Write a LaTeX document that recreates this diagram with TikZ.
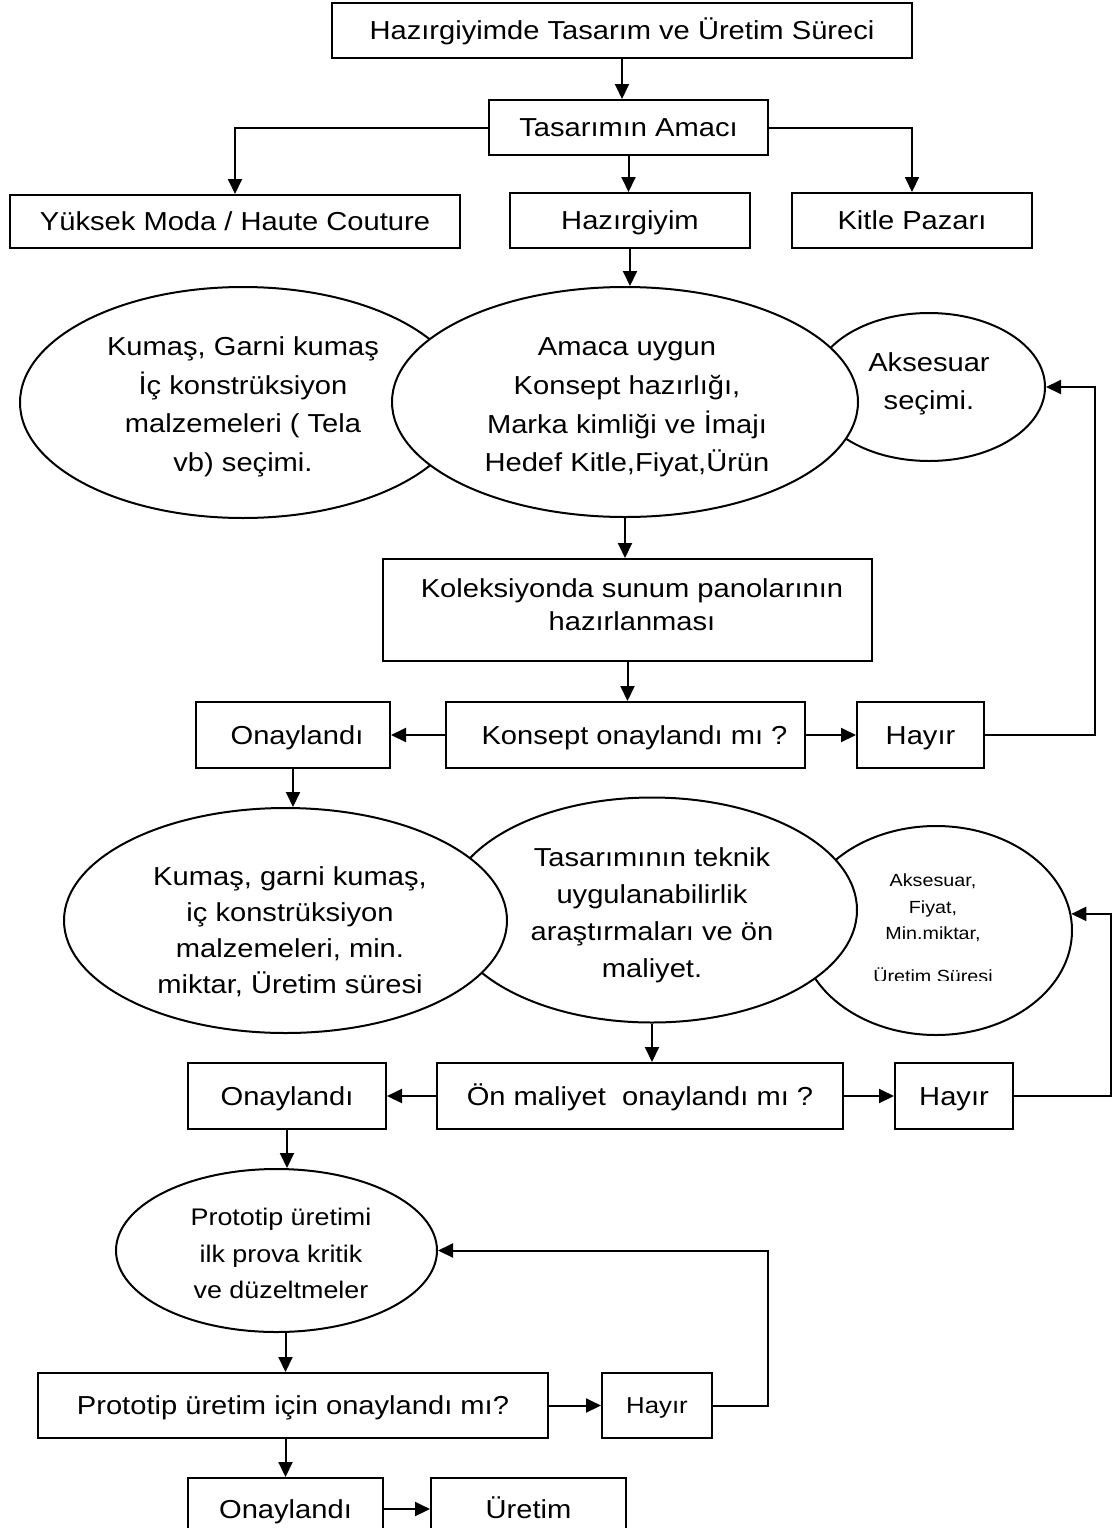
\documentclass[tikz,border=0pt]{standalone}
\usepackage{fontspec}
\setmainfont{Liberation Sans}[FakeStretch=1.12]
\usetikzlibrary{shapes.geometric,arrows.meta}
\begin{document}
\begin{tikzpicture}[x=1pt,y=-1pt,
  box/.style={draw,line width=2pt,fill=white,inner sep=0pt,align=center,text height=18.6pt,text depth=0pt,font=\fontsize{26}{33}\selectfont},
  ell/.style={draw,ellipse,line width=2pt,fill=white,inner sep=0pt},
  etxt/.style={inner sep=0pt,align=center,font=\fontsize{26}{38.6}\selectfont},
  arr/.style={line width=2pt,-{Triangle[length=15pt,width=14pt]}},
  ln/.style={line width=2pt}]
\useasboundingbox (0,0) rectangle (1117,1528);
\clip (0,0) rectangle (1117,1528);
\fill[white] (0,0) rectangle (1117,1528);

% top boxes
\node[box,minimum width=580pt,minimum height=55pt] (title) at (622,30.5) {Hazırgiyimde Tasarım ve Üretim Süreci};
\node[box,minimum width=279pt,minimum height=55pt] (amac) at (628.5,127.5) {Tasarımın Amacı};
\node[box,minimum width=450pt,minimum height=53pt] (yuksek) at (235,221.5) {Yüksek Moda / Haute Couture};
\node[box,minimum width=240pt,minimum height=55pt] (hazir) at (630,220.5) {Hazırgiyim};
\node[box,minimum width=240pt,minimum height=55pt] (kitle) at (912,220.5) {Kitle Pazarı};

\draw[arr] (title.south) -- (title.south |- amac.north);
\draw[arr] (amac.south) -- (amac.south |- hazir.north);
\draw[arr] (amac.west) -| (yuksek.north);
\draw[arr] (amac.east) -| (kitle.north);

% first ellipse row
\node[ell,minimum width=446pt,minimum height=231pt] (L1) at (243,402.5) {};
\node[ell,minimum width=232pt,minimum height=148pt] (R1) at (929,387) {};
\node[ell,minimum width=466pt,minimum height=230pt] (C1) at (625,402) {};
\node[etxt] (L1t) at (243,407) {Kumaş, Garni kumaş\\İç konstrüksiyon\\malzemeleri ( Tela\\vb) seçimi.};
\node[etxt] (C1t) at (627,407.5) {Amaca uygun\\Konsept hazırlığı,\\Marka kimliği ve İmajı\\Hedef Kitle,Fiyat,Ürün};
\node[etxt] (R1t) at (929,384) {Aksesuar\\seçimi.};
\draw[arr] (hazir.south) -- (hazir.south |- C1.north);

\node[box,minimum width=489pt,minimum height=102pt] (kol) at (627.5,610) {};
\node[etxt,font=\fontsize{26}{33}\selectfont] (kolt) at (632,605) {Koleksiyonda sunum panolarının\\hazırlanması};
\draw[arr] (C1.south) -- (C1.south |- kol.north);

\node[box,minimum width=359pt,minimum height=66pt] (konsept) at (625.5,735) {\hspace*{18pt}Konsept onaylandı mı ?};
\node[box,minimum width=194pt,minimum height=66pt] (on1) at (293,735) {\hspace*{8pt}Onaylandı};
\node[box,minimum width=127pt,minimum height=66pt] (hayir1) at (920.5,735) {Hayır};
\draw[arr] (kol.south) -- (kol.south |- konsept.north);
\draw[arr] (konsept.west) -- (on1.east);
\draw[arr] (konsept.east) -- (hayir1.west);
\coordinate (cx1) at (1095,0);
\draw[arr] (hayir1.east) -| (cx1 |- R1.east) -- (R1.east);

% second ellipse row
\node[ell,minimum width=272pt,minimum height=209pt] (R2) at (936,930.5) {};
\node[ell,minimum width=410pt,minimum height=225pt] (C2) at (652,910) {};
\node[ell,minimum width=443pt,minimum height=225pt] (L2) at (285.5,920.5) {};
\node[etxt,font=\fontsize{26}{35.8}\selectfont] (L2t) at (290,931.7) {Kumaş, garni kumaş,\\iç konstrüksiyon\\malzemeleri, min.\\miktar, Üretim süresi};
\node[etxt,font=\fontsize{26}{37}\selectfont] (C2t) at (652,915.7) {Tasarımının teknik\\uygulanabilirlik\\araştırmaları ve ön\\maliyet.};
\begin{scope}
\clip (790,850) rectangle (1080,980);
\node[etxt,font=\fontsize{17.6}{26.5}\selectfont] (R2t) at (933,928.5) {Aksesuar,\\Fiyat,\\Min.miktar,\\[16.5pt]Üretim Süresi};
\end{scope}
\draw[arr] (on1.south) -- (on1.south |- L2.north);

\node[box,minimum width=406pt,minimum height=66pt] (onmal) at (640,1096) {Ön maliyet\ \ onaylandı mı ?};
\node[box,minimum width=198pt,minimum height=66pt] (on2) at (287,1096) {Onaylandı};
\node[box,minimum width=118pt,minimum height=66pt] (hayir2) at (954,1096) {Hayır};
\draw[arr] (C2.south) -- (C2.south |- onmal.north);
\draw[arr] (onmal.west) -- (on2.east);
\draw[arr] (onmal.east) -- (hayir2.west);
\coordinate (cx2) at (1111,0);
\draw[arr] (hayir2.east) -| (cx2 |- R2.7) -- (R2.7);

% prototype
\node[ell,minimum width=321pt,minimum height=163pt] (proto) at (276.5,1250.5) {};
\node[etxt,font=\fontsize{24}{36.7}\selectfont] (protot) at (281,1253.6) {Prototip üretimi\\ilk prova kritik\\ve düzeltmeler};
\draw[arr] (on2.south) -- (on2.south |- proto.north);

\node[box,minimum width=510pt,minimum height=65pt] (q3) at (293,1405.5) {Prototip üretim için onaylandı mı?};
\node[box,minimum width=110pt,minimum height=65pt,font=\fontsize{23}{28}\selectfont,text height=16.5pt] (hayir3) at (657,1405.5) {Hayır};
\draw[arr] ([xshift=9pt]proto.south) -- ([xshift=9pt]proto.south |- q3.north);
\draw[arr] (q3.east) -- (hayir3.west);
\coordinate (cx3) at (768,0);
\draw[arr] (hayir3.east) -| (cx3 |- proto.east) -- (proto.east);

\node[box,minimum width=195pt,minimum height=62pt] (on3) at (285.5,1509) {Onaylandı};
\node[box,minimum width=195pt,minimum height=62pt] (uretim) at (528.5,1509) {Üretim};
\draw[arr] (on3.north |- q3.south) -- (on3.north);
\draw[arr] (on3.east) -- (uretim.west);
\end{tikzpicture}
\end{document}
